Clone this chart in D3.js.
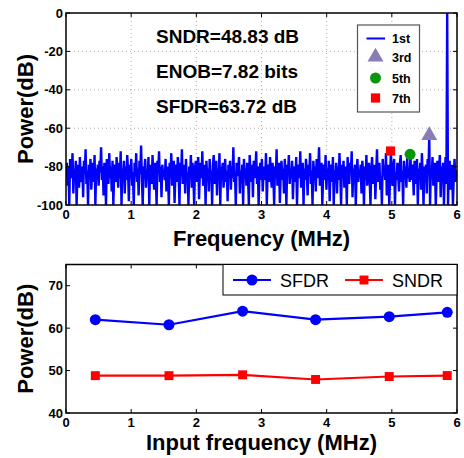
<!DOCTYPE html>
<html><head><meta charset="utf-8">
<script src="https://cdn.jsdelivr.net/npm/d3@7"></script>
<style>
body{margin:0;background:#fff;}
svg{display:block;font-family:"Liberation Sans",Arial,sans-serif;}
</style></head>
<body>
<svg id="c" width="464" height="458"></svg>
<script>
// ---- Top chart data (FFT spectrum in dB, evenly spaced bins 0..6 MHz) ----
const spectrumDb = [
-84,-78,-90,-80,-100,-76,-86,-82,-73,-94,-81,-87,-77,-100,-83,-79,-91,-75,-85,-88,
-80,-96,-77,-84,-71,-89,-82,-100,-79,-86,-76,-92,-83,-78,-88,-74,-100,-81,-85,-79,
-90,-77,-83,-70,-87,-80,-95,-78,-84,-100,-76,-82,-89,-73,-86,-80,-93,-77,-100,-84,
-79,-88,-75,-83,-91,-78,-86,-72,-100,-81,-85,-77,-94,-80,-87,-74,-82,-98,-79,-86,
-76,-90,-83,-100,-78,-85,-73,-88,-81,-95,-77,-84,-69,-87,-100,-80,-83,-76,-91,-82,
-86,-75,-100,-81,-79,-89,-74,-84,-92,-78,-85,-100,-77,-83,-72,-88,-80,-96,-79,-85,
-82,-87,-76,-93,-80,-84,-100,-78,-86,-73,-90,-81,-77,-99,-84,-79,-88,-75,-83,-100,
-78,-85,-71,-89,-82,-79,-94,-76,-87,-83,-100,-80,-86,-74,-91,-78,-84,-100,-81,-77,
-88,-80,-75,-97,-83,-78,-86,-72,-90,-84,-79,-100,-77,-85,-81,-93,-76,-87,-82,-100,
-79,-74,-89,-83,-77,-95,-81,-86,-73,-100,-80,-84,-78,-91,-85,-76,-88,-82,-98,-79,
-84,-77,-92,-80,-86,-70,-88,-83,-100,-78,-85,-81,-75,-94,-82,-87,-79,-100,-76,-84,
-81,-90,-78,-85,-100,-74,-83,-88,-79,-96,-77,-86,-82,-72,-89,-80,-100,-84,-78,-87,
-76,-93,-83,-80,-87,-73,-100,-82,-79,-88,-75,-85,-91,-78,-84,-100,-80,-86,-71,-90,
-82,-78,-99,-84,-77,-87,-81,-94,-76,-85,-100,-79,-83,-74,-89,-81,-86,-77,-97,-83,
-80,-88,-75,-100,-82,-79,-86,-72,-91,-84,-78,-100,-81,-87,-76,-83,-95,-79,-85,-73,
-89,-82,-100,-77,-84,-80,-93,-76,-86,-81,-70,-90,-83,-78,-100,-85,-79,-87,-74,-92,
-81,-86,-77,-98,-83,-79,-88,-75,-100,-82,-85,-78,-94,-80,-87,-73,-84,-100,-79,-86,
-77,-91,-82,-80,-100,-75,-85,-89,-78,-83,-72,-96,-81,-86,-79,-100,-84,-76,-88,-82,
-85,-79,-94,-77,-83,-100,-80,-87,-74,-90,-82,-78,-86,-100,-81,-75,-89,-84,-79,-97,
-83,-71,-88,-81,-78,-92,-85,-100,-76,-84,-80,-87,-73,-95,-82,-79,-100,-86,-72,-84,
-90,-80,-76,-100,-83,-87,-78,-85,-93,-79,-74,-88,-82,-100,-77,-84,-80,-91,-75,-86,
-82,-88,-74,-87,-79,-84,-95,-77,-83,-89,-76,-100,-81,-86,-78,-92,-73,-85,-100,-80,
-87,-79,-94,-76,-84,-63.72,-100,-81,-86,-75,-90,-83,-78,-100,-85,-77,-88,-82,-74,-96,
-80,-86,-78,-100,-83,-75,-89,0,-100,-81,-77,-92,-84,-79,-100,-86,-76,-88,-82,-85
];
const freqMax = 6;
const harmonicLabels = ["3rd","5th","7th"];
const harmonicFreq = [5.575, 5.28, 4.98];
const harmonicDb = [-63.72, -73.6, -71.9];
const statTexts = ["SNDR=48.83 dB","ENOB=7.82 bits","SFDR=63.72 dB"];
const topXTicks = [0,1,2,3,4,5,6];
const topYTicks = [0,-20,-40,-60,-80,-100];

// ---- Bottom chart data ----
const inputFreq = [0.45, 1.58, 2.71, 3.83, 4.96, 5.85];
const sfdrVals = [62.0, 60.8, 64.0, 62.0, 62.7, 63.72];
const sndrVals = [48.8, 48.8, 49.0, 47.9, 48.6, 48.83];
const botXTicks = [0,1,2,3,4,5,6];
const botYTicks = [40,50,60,70];

const svg = d3.select("#c");
const L = 66, R = 457;

function frame(g, x, y, xt, yt){
  const [x0,x1] = x.range(), [y0,y1] = y.range();
  g.append("g").selectAll("line").data(xt.slice(1,-1)).join("line")
    .attr("x1",d=>x(d)).attr("x2",d=>x(d)).attr("y1",y1).attr("y2",y0)
    .attr("stroke","#b0b0b0").attr("stroke-width",1).attr("stroke-dasharray","1,3");
  g.append("g").selectAll("line").data(yt.filter(d=>y(d)>y1+1 && y(d)<y0-1)).join("line")
    .attr("x1",x0).attr("x2",x1).attr("y1",d=>y(d)).attr("y2",d=>y(d))
    .attr("stroke","#b0b0b0").attr("stroke-width",1).attr("stroke-dasharray","1,3");
}
function axesBox(g, x, y, xt, yt){
  const [x0,x1] = x.range(), [y0,y1] = y.range();
  const tl = 4;
  const ax = g.append("g").attr("stroke","#000").attr("stroke-width",1);
  ax.selectAll(".xb").data(xt).join("line").attr("x1",d=>x(d)).attr("x2",d=>x(d)).attr("y1",y0).attr("y2",y0-tl);
  ax.selectAll(".xt").data(xt).join("line").attr("x1",d=>x(d)).attr("x2",d=>x(d)).attr("y1",y1).attr("y2",y1+tl);
  ax.selectAll(".yl").data(yt).join("line").attr("y1",d=>y(d)).attr("y2",d=>y(d)).attr("x1",x0).attr("x2",x0+tl);
  ax.selectAll(".yr").data(yt).join("line").attr("y1",d=>y(d)).attr("y2",d=>y(d)).attr("x1",x1).attr("x2",x1-tl);
  g.append("rect").attr("x",x0).attr("y",y1).attr("width",x1-x0).attr("height",y0-y1)
    .attr("fill","none").attr("stroke","#000").attr("stroke-width",1.5);
  g.append("g").selectAll("text").data(xt).join("text")
    .attr("x",d=>x(d)).attr("y",y0+14).attr("text-anchor","middle")
    .attr("font-size",13).attr("font-weight","bold").text(d=>d);
  g.append("g").selectAll("text").data(yt).join("text")
    .attr("x",x0-3).attr("y",d=>y(d)+4.5).attr("text-anchor","end")
    .attr("font-size",13).attr("font-weight","bold").text(d=>d);
}

// ================= TOP =================
const xT = d3.scaleLinear().domain([0,freqMax]).range([L,R]);
const yT = d3.scaleLinear().domain([-100,0]).range([205,13]);
const gT = svg.append("g");
frame(gT, xT, yT, topXTicks, topYTicks);
svg.append("defs").append("clipPath").attr("id","clipT")
  .append("rect").attr("x",L).attr("y",13).attr("width",R-L).attr("height",205-13);
const n = spectrumDb.length;
const line = d3.line().x((d,i)=>xT(i*freqMax/(n-1))).y(d=>yT(d));
gT.append("path").datum(spectrumDb).attr("clip-path","url(#clipT)")
  .attr("d",line).attr("fill","none").attr("stroke","#0000ff").attr("stroke-width",2.4);

const hColors = ["#8a7db5","#0a960a","#ff0000"];
const sym = [d3.symbolTriangle, d3.symbolCircle, d3.symbolSquare];
const symSize = [110, 95, 85];
harmonicFreq.forEach((f,i)=>{
  gT.append("path").attr("d",d3.symbol().type(sym[i]).size(symSize[i])())
    .attr("transform",`translate(${xT(f)},${yT(harmonicDb[i])})`).attr("fill",hColors[i]);
});
axesBox(gT, xT, yT, topXTicks, topYTicks);

statTexts.forEach((t,i)=>{
  gT.append("text").attr("x",156).attr("y",43+i*34.8).attr("font-size",19)
    .attr("font-weight","bold").text(t);
});

// top legend
const lg = gT.append("g");
lg.append("rect").attr("x",357.5).attr("y",25).attr("width",62).attr("height",87)
  .attr("fill","#fff").attr("stroke","#555").attr("stroke-width",1.2);
const legY = [38.5, 57, 78, 98];
lg.append("line").attr("x1",366.5).attr("x2",385).attr("y1",legY[0]).attr("y2",legY[0])
  .attr("stroke","#0000ff").attr("stroke-width",2);
harmonicLabels.forEach((t,i)=>{
  lg.append("path").attr("d",d3.symbol().type(sym[i]).size(symSize[i])())
    .attr("transform",`translate(375.5,${legY[i+1]})`).attr("fill",hColors[i]);
});
["1st"].concat(harmonicLabels).forEach((t,i)=>{
  lg.append("text").attr("x",392).attr("y",legY[i]+4.5).attr("font-size",12.5)
    .attr("font-weight","bold").text(t);
});

gT.append("text").attr("x",(L+R)/2).attr("y",246).attr("text-anchor","middle")
  .attr("font-size",22).attr("font-weight","bold").text("Frequency (MHz)");
gT.append("text").attr("transform",`translate(33,${(13+205)/2}) rotate(-90)`)
  .attr("text-anchor","middle").attr("font-size",22).attr("font-weight","bold").text("Power(dB)");

// ================= BOTTOM =================
const xB = d3.scaleLinear().domain([0,6]).range([L,R]);
const yB = d3.scaleLinear().domain([40,75]).range([413,264.5]);
const gB = svg.append("g");
axesBox(gB, xB, yB, botXTicks, botYTicks);

const series = [
  {name:"SFDR", vals:sfdrVals, color:"#0000ff", sym:d3.symbolCircle, size:95},
  {name:"SNDR", vals:sndrVals, color:"#ff0000", sym:d3.symbolSquare, size:80}
];
series.forEach(s=>{
  const ln = d3.line().x((d,i)=>xB(inputFreq[i])).y(d=>yB(d));
  gB.append("path").datum(s.vals).attr("d",ln).attr("fill","none")
    .attr("stroke",s.color).attr("stroke-width",2.2);
  gB.selectAll(null).data(s.vals).join("path")
    .attr("d",d3.symbol().type(s.sym).size(s.size)())
    .attr("transform",(d,i)=>`translate(${xB(inputFreq[i])},${yB(d)})`).attr("fill",s.color);
});

// bottom legend
const lb = gB.append("g");
lb.append("rect").attr("x",223).attr("y",264.5).attr("width",R-223).attr("height",30.5)
  .attr("fill","#fff").attr("stroke","#000").attr("stroke-width",1);
const legX = [233, 345];
series.forEach((s,i)=>{
  const x0 = legX[i], cy = 280;
  lb.append("line").attr("x1",x0).attr("x2",x0+38).attr("y1",cy).attr("y2",cy)
    .attr("stroke",s.color).attr("stroke-width",2);
  lb.append("path").attr("d",d3.symbol().type(s.sym).size(s.size)())
    .attr("transform",`translate(${x0+19},${cy})`).attr("fill",s.color);
  lb.append("text").attr("x",x0+47).attr("y",cy+6.5).attr("font-size",18)
    .text(s.name);
});

gB.append("text").attr("x",(L+R)/2).attr("y",450).attr("text-anchor","middle")
  .attr("font-size",22).attr("font-weight","bold").text("Input frequency (MHz)");
gB.append("text").attr("transform",`translate(33,${(264.5+413)/2}) rotate(-90)`)
  .attr("text-anchor","middle").attr("font-size",22).attr("font-weight","bold").text("Power(dB)");
</script>
</body></html>
